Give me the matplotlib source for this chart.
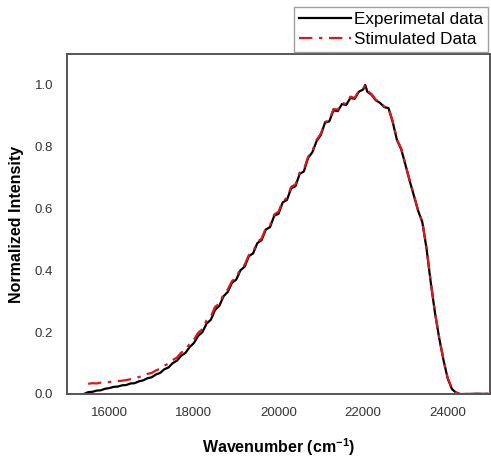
import matplotlib
matplotlib.use("Agg")
import matplotlib.pyplot as plt

# Wavenumber grid (cm-1)
wavenumber = [15400, 15500, 15600, 15700, 15800, 15900, 16000, 16100, 16200, 16300,
              16400, 16500, 16600, 16700, 16800, 16900, 17000, 17100, 17200, 17300,
              17400, 17500, 17600, 17700, 17800, 17900, 18000, 18100, 18200, 18300,
              18400, 18500, 18600, 18700, 18800, 18900, 19000, 19100, 19200, 19300,
              19400, 19500, 19600, 19700, 19800, 19900, 20000, 20100, 20200, 20300,
              20400, 20500, 20600, 20700, 20800, 20900, 21000, 21100, 21200, 21300,
              21400, 21500, 21600, 21700, 21800, 21900, 22000, 22050, 22100, 22200,
              22300, 22400, 22500, 22600, 22700, 22800, 22900, 23000, 23100, 23200,
              23300, 23400, 23500, 23600, 23700, 23800, 23900, 24000, 24100, 24200,
              24300, 24500, 24700, 25000]

experimental = [0.000, 0.006, 0.007, 0.011, 0.012, 0.017, 0.019, 0.023, 0.024, 0.028,
                0.029, 0.034, 0.035, 0.041, 0.044, 0.051, 0.054, 0.063, 0.068, 0.080,
                0.086, 0.100, 0.108, 0.124, 0.133, 0.152, 0.165, 0.188, 0.200, 0.228,
                0.240, 0.272, 0.285, 0.316, 0.330, 0.360, 0.370, 0.400, 0.412, 0.446,
                0.455, 0.488, 0.498, 0.532, 0.540, 0.577, 0.583, 0.620, 0.628, 0.666,
                0.672, 0.712, 0.720, 0.764, 0.782, 0.818, 0.838, 0.878, 0.882, 0.918,
                0.915, 0.938, 0.935, 0.958, 0.955, 0.978, 0.985, 1.000, 0.978, 0.968,
                0.950, 0.942, 0.928, 0.925, 0.880, 0.822, 0.792, 0.742, 0.690, 0.642,
                0.593, 0.556, 0.470, 0.360, 0.262, 0.180, 0.110, 0.050, 0.016, 0.004,
                0.000, 0.000, 0.001, 0.000]

simulated = [None, 0.033, 0.035, 0.034, 0.037, 0.036, 0.039, 0.040, 0.042, 0.043,
             0.045, 0.048, 0.050, 0.055, 0.058, 0.065, 0.068, 0.076, 0.082, 0.092,
             0.098, 0.110, 0.118, 0.134, 0.142, 0.162, 0.176, 0.198, 0.210, 0.238,
             0.250, 0.282, 0.292, 0.322, 0.338, 0.365, 0.378, 0.404, 0.418, 0.450,
             0.460, 0.492, 0.503, 0.536, 0.546, 0.581, 0.590, 0.624, 0.634, 0.670,
             0.678, 0.716, 0.726, 0.768, 0.786, 0.822, 0.842, 0.880, 0.886, 0.922,
             0.920, 0.942, 0.938, 0.962, 0.958, 0.980, 0.988, 0.998, 0.982, 0.970,
             0.952, 0.944, 0.930, 0.926, 0.882, 0.824, 0.794, 0.744, 0.692, 0.644,
             0.595, 0.558, 0.472, 0.362, 0.264, 0.182, 0.112, 0.052, 0.018, 0.005,
             0.001, 0.000, 0.000, 0.001]

x_ticks = [16000, 18000, 20000, 22000, 24000]
y_ticks = [0.0, 0.2, 0.4, 0.6, 0.8, 1.0]

plt.rcParams['font.family'] = ['Liberation Sans', 'DejaVu Sans']

fig = plt.figure(figsize=(4.91, 4.57), dpi=100)
ax = fig.add_axes([67/491, 63/457, 423/491, 340/457])

sim_x = [w for w, s in zip(wavenumber, simulated) if s is not None]
sim_y = [s for s in simulated if s is not None]

ax.plot(wavenumber, experimental, color='black', lw=1.6, label='Experimetal data')
ax.plot(sim_x, sim_y, color='#e0161b', lw=1.6, linestyle=(0, (6, 3, 1.5, 3)),
        label='Stimulated Data')

ax.set_xlim(15000, 25000)
ax.set_ylim(0, 1.1)
ax.set_xticks(x_ticks)
ax.set_xticklabels([str(t) for t in x_ticks])
ax.set_yticks(y_ticks)
ax.set_yticklabels([f"{t:.1f}" for t in y_ticks])
ax.tick_params(length=0, labelsize=9.5, labelcolor='#333333')
ax.tick_params(axis='x', pad=9)
ax.tick_params(axis='y', pad=10)
for sp in ax.spines.values():
    sp.set_color('#555555')
    sp.set_linewidth(1.4)

ax.set_xlabel('Wavenumber (cm$^{\\mathregular{-1}}$)', fontsize=11.5, fontweight='bold',
              labelpad=13)
ax.set_ylabel('Normalized Intensity', fontsize=11.5, fontweight='bold', labelpad=8)

leg = ax.legend(loc='lower right', bbox_to_anchor=(1.0, 1.0), fontsize=12.3,
                frameon=True, fancybox=False, edgecolor='#888888', borderpad=0.3,
                handlelength=3.0, handletextpad=0.2, labelspacing=0.3,
                borderaxespad=0.1)
leg.get_frame().set_linewidth(1.0)

fig.savefig('out.png', dpi=100)
